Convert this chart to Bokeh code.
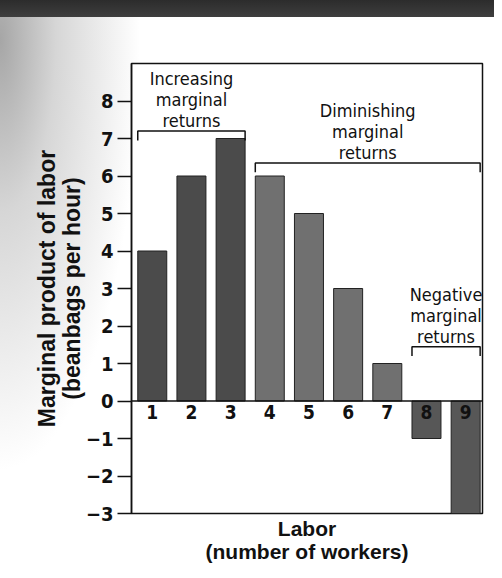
from bokeh.plotting import figure
from bokeh.models import Range1d, Span, ColumnDataSource, FixedTicker
from bokeh.core.properties import value
from bokeh.embed import file_html
from bokeh.resources import INLINE

# ---- data ----
workers = [1, 2, 3, 4, 5, 6, 7, 8, 9]
marginal_product = [4, 6, 7, 6, 5, 3, 1, -1, -3]
bar_colors = ["#4b4b4b", "#4b4b4b", "#4b4b4b",
              "#707070", "#707070", "#707070", "#707070",
              "#575757", "#575757"]
y_ticks = [-3, -2, -1, 0, 1, 2, 3, 4, 5, 6, 7, 8]
y_tick_labels = ["\u22123", "\u22122", "\u22121", "0", "1", "2", "3", "4", "5", "6", "7", "8"]

phase_names = ["Increasing\nmarginal\nreturns",
               "Diminishing\nmarginal\nreturns",
               "Negative\nmarginal\nreturns"]
phase_first = [1, 4, 8]
phase_last = [3, 9, 9]
phase_level = [7.2, 6.35, 1.45]

NARROW = "'Liberation Sans Narrow', 'DejaVu Sans Condensed', 'Arial Narrow', sans-serif"
BOLD = "'Liberation Sans', Arial, sans-serif"
BAR_W = 0.74

p = figure(width=494, height=570, output_backend="svg", toolbar_location=None,
           x_range=Range1d(0.47, 9.43), y_range=Range1d(-3, 9),
           min_border_left=131, min_border_right=12, min_border_top=63, min_border_bottom=57)
p.background_fill_color = "white"
p.border_fill_color = None
p.styles = {
    "background": ("linear-gradient(to bottom, #2c2c2c 0px, #3e3e3e 17px, rgba(0,0,0,0) 17px), "
                   "radial-gradient(ellipse 140px 430px at 0px 40px, #a6a6a6 0%, #d6d6d6 40%, "
                   "rgba(255,255,255,0) 100%), #ffffff"),
}
p.outline_line_color = "#111111"
p.outline_line_width = 1.5
p.grid.visible = False

src = ColumnDataSource(dict(x=workers, top=marginal_product, color=bar_colors,
                            label=[str(w) for w in workers], zero=[0] * len(workers)))
p.vbar(x="x", top="top", bottom=0, width=BAR_W, fill_color="color",
       line_color="#222222", line_width=1, source=src)

p.add_layout(Span(location=0, dimension="width", line_color="#111111", line_width=1.5))

# x tick numbers inside the plot below zero line
p.text(x="x", y="zero", text="label", source=src, text_align="center",
       text_baseline="top", y_offset=4, text_font=value(NARROW),
       text_font_style="bold", text_font_size="19px", text_color="#111111")

# phase brackets
bx, by = [], []
for a, b, lv in zip(phase_first, phase_last, phase_level):
    l = a - BAR_W / 2
    r = b + BAR_W / 2
    bx.append([l, l, r, r])
    by.append([lv - 0.25, lv, lv, lv - 0.25])
p.multi_line(xs=bx, ys=by, line_color="#111111", line_width=1.5)

tsrc = ColumnDataSource(dict(x=[(a + b) / 2 for a, b in zip(phase_first, phase_last)],
                             y=phase_level, text=phase_names))
p.text(x="x", y="y", text="text", source=tsrc, text_align="center",
       text_baseline="bottom", y_offset=0, text_font=value(NARROW),
       text_font_size="18px", text_color="#111111", text_line_height=1.0)

# y axis
ya = p.yaxis[0]
ya.ticker = FixedTicker(ticks=y_ticks)
ya.major_label_overrides = {t: s for t, s in zip(y_ticks, y_tick_labels)}
ya.major_tick_out = 14
ya.major_tick_in = 0
ya.minor_tick_out = 0
ya.minor_tick_in = 0
ya.major_tick_line_color = "#111111"
ya.major_tick_line_width = 1.5
ya.axis_line_color = "#111111"
ya.axis_line_width = 1.5
ya.major_label_text_font = NARROW
ya.major_label_text_font_style = "bold"
ya.major_label_text_font_size = "20px"
ya.major_label_text_color = "#111111"
ya.major_label_standoff = 4
ya.axis_label = "Marginal product of labor\n(beanbags per hour)"
ya.axis_label_text_font = BOLD
ya.axis_label_text_font_style = "bold"
ya.axis_label_text_font_size = "23px"
ya.axis_label_text_color = "#111111"
ya.axis_label_text_line_height = 0.97
ya.axis_label_standoff = -2

# x axis: only title
xa = p.xaxis[0]
xa.ticker = FixedTicker(ticks=[])
xa.axis_line_color = None
xa.major_tick_out = 0
xa.major_tick_in = 0
xa.minor_tick_out = 0
xa.minor_tick_in = 0
xa.major_label_text_font_size = "0px"
xa.axis_label = "Labor\n(number of workers)"
xa.axis_label_text_font = BOLD
xa.axis_label_text_font_style = "bold"
xa.axis_label_text_font_size = "21px"
xa.axis_label_text_color = "#111111"
xa.axis_label_text_line_height = 1.0
xa.axis_label_standoff = 3

open("out.html", "w").write(file_html(p, INLINE))
